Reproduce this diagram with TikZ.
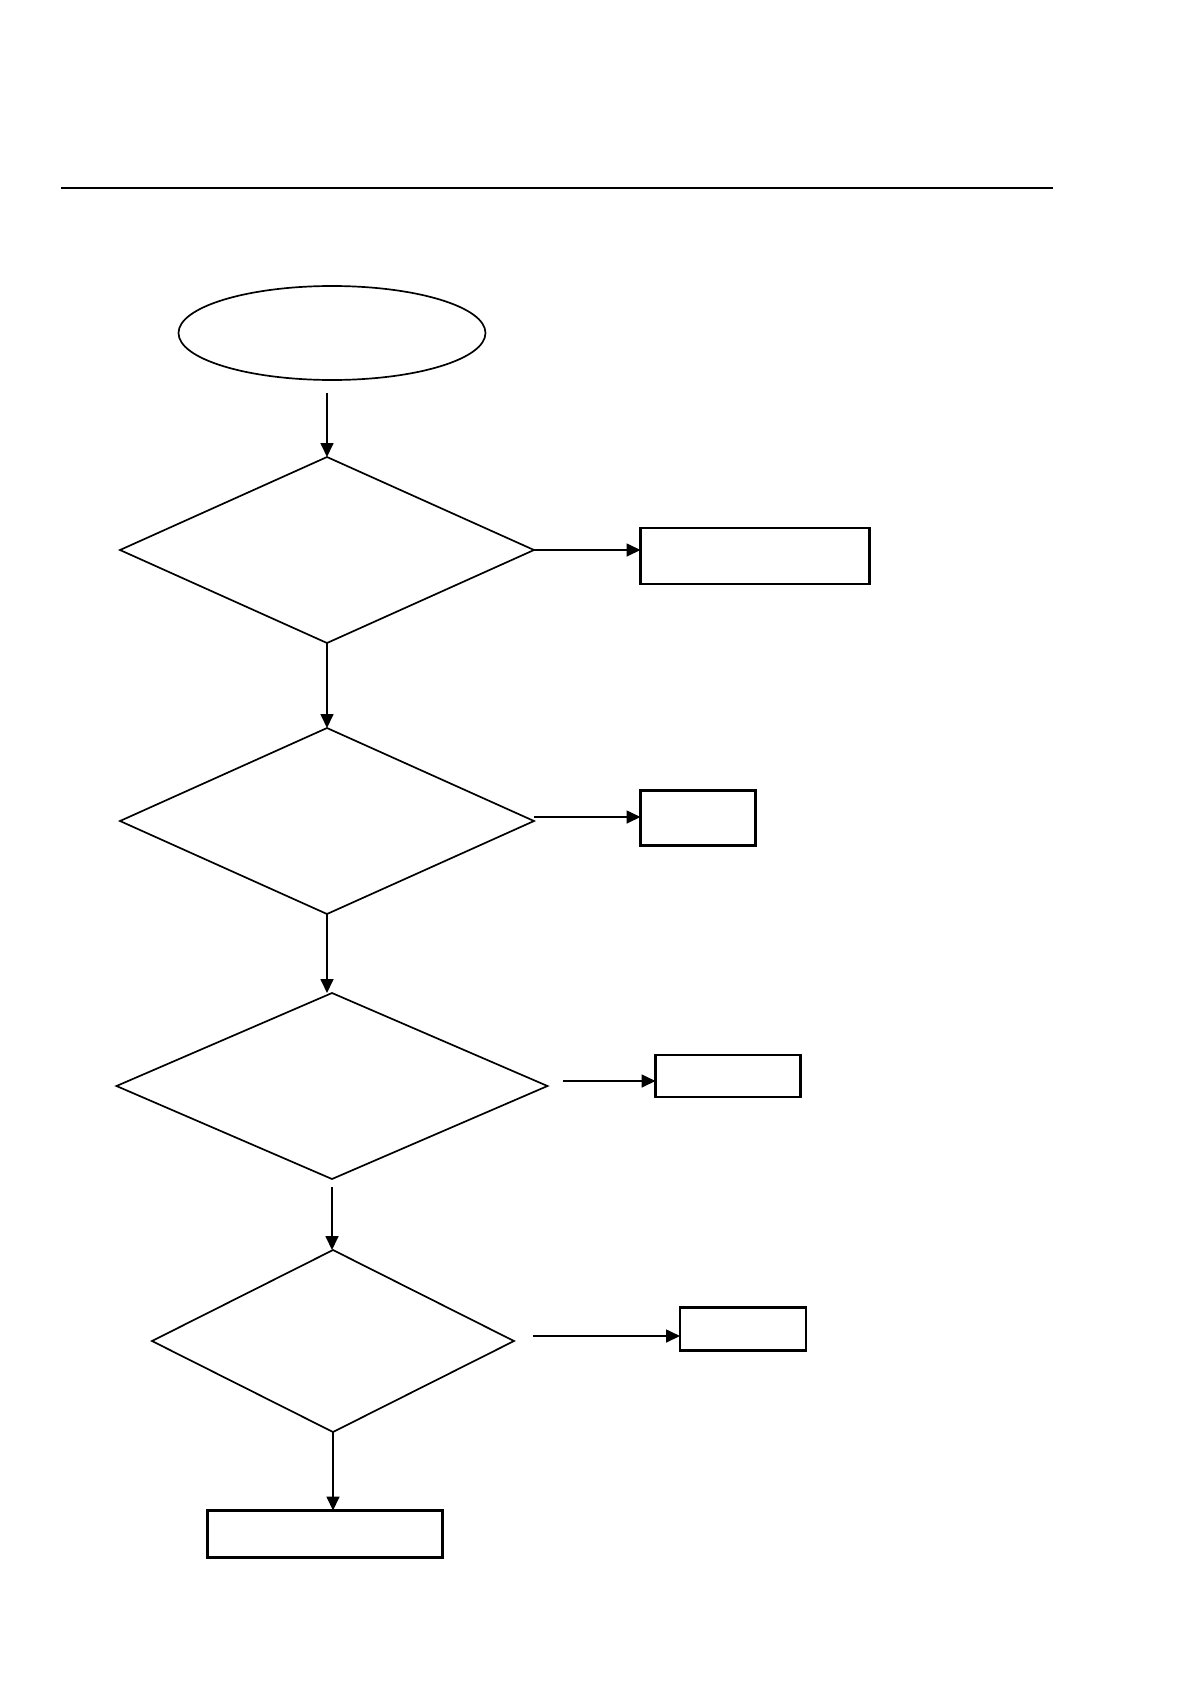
\documentclass[tikz,border=0pt]{standalone}
\usepackage{tikz}
\usetikzlibrary{arrows.meta,calc,positioning,shapes.geometric}

\begin{document}
\begin{tikzpicture}[x=0.017647cm, y=-0.017647cm,
  decision/.style={draw, diamond, line width=0.85pt, inner sep=0pt, outer sep=0pt},
  outcome/.style={draw, rectangle, line width=1.1pt, inner sep=0pt, outer sep=0pt},
  flow/.style={line width=0.85pt, -{Triangle[length=7pt,width=6.5pt]}}]
  \def\u{0.017647cm}
  \useasboundingbox (0,0) rectangle (1190,1684);

  % header rule
  \draw[line width=0.8pt] (61,188) -- (1053,188);

  % start
  \node[draw, ellipse, line width=0.85pt, inner sep=0pt, outer sep=0pt,
        minimum width=307*\u, minimum height=94*\u] (start) at (332,333) {};

  % decisions
  \node[decision, minimum width=414*\u, minimum height=186*\u] (q1) at (327,550) {};
  \node[decision, minimum width=414*\u, minimum height=186*\u] (q2) at (327,821) {};
  \node[decision, minimum width=431*\u, minimum height=186*\u] (q3) at (332,1086) {};
  \node[decision, minimum width=362*\u, minimum height=182*\u] (q4) at (333,1341) {};

  % outcomes
  \node[outcome, minimum width=229*\u, minimum height=56*\u] (b1) at (755,556) {};
  \node[outcome, minimum width=115*\u, minimum height=55*\u] (b2) at (698,818) {};
  \node[outcome, minimum width=145*\u, minimum height=42*\u] (b3) at (728,1076) {};
  \node[outcome, minimum width=126*\u, minimum height=43*\u] (b4) at (743,1329) {};
  \node[outcome, minimum width=235*\u, minimum height=47*\u] (b5) at (325,1534) {};

  % main line
  \draw[flow, shorten <=6.5pt] (q1.north |- start.south) -- (q1.north);
  \draw[flow] (q1.south) -- (q1.south |- q2.north);
  \draw[flow] (q2.south) -- (q2.south |- q3.north);
  \draw[flow, shorten <=4pt] (q3.south) -- (q3.south |- q4.north);
  \draw[flow] (q4.south) -- (q4.south |- b5.north);

  % side branches
  \draw[flow] (q1.east) -- (q1.east -| b1.west);
  \draw[flow] ($(q2.east)+(0,-4)$) -- ($(q2.east -| b2.west)+(0,-4)$);
  \draw[flow, shorten <=8pt] ($(q3.east)+(0,-5)$) -- ($(q3.east -| b3.west)+(0,-5)$);
  \draw[flow, shorten <=9.5pt] ($(q4.east)+(0,-5)$) -- ($(q4.east -| b4.west)+(0,-5)$);
\end{tikzpicture}
\end{document}
